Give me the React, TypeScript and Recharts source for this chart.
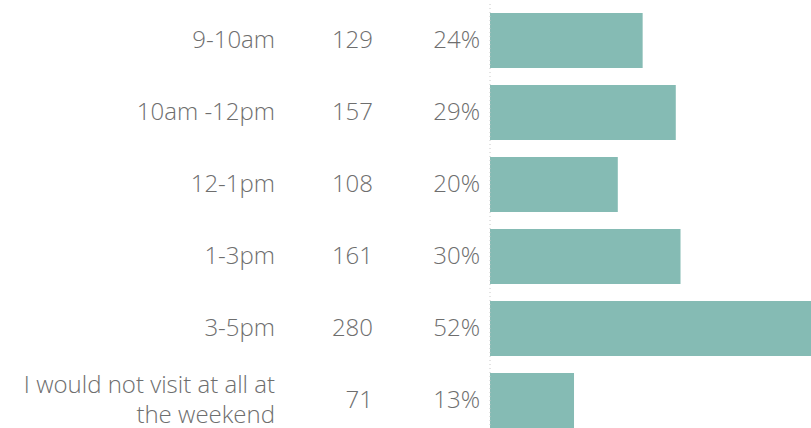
import React from 'react';
import { BarChart, Bar, XAxis, YAxis } from 'recharts';

const categories = ['9-10am', '10am -12pm', '12-1pm', '1-3pm', '3-5pm', 'I would not visit at all at the weekend'];
const counts = [129, 157, 108, 161, 280, 71];
const percents = [24, 29, 20, 30, 52, 13];

const data = categories.map((slot, i) => ({ slot, count: counts[i], pct: percents[i] }));

const TEXT_COLOR = '#6e6e6e';
const FONT = '"Open Sans", sans-serif';

// break long labels into lines of at most maxChars characters
const wrap = (label: string, maxChars: number) => {
  const words = label.split(' ');
  const lines: string[] = [];
  let cur = '';
  words.forEach((w) => {
    const next = cur ? `${cur} ${w}` : w;
    if (next.length > maxChars && cur) {
      lines.push(cur);
      cur = w;
    } else {
      cur = next;
    }
  });
  if (cur) lines.push(cur);
  return lines;
};

const RowTick = (props: any) => {
  const { x, y, index, payload } = props;
  const lines = wrap(payload.value, 27);
  const lh = 30;
  return (
    <g fontFamily={FONT} fontSize={24} fontWeight={300} fill={TEXT_COLOR}>
      {lines.map((line, li) => (
        <text
          key={li}
          x={x - 215}
          y={y + (li - (lines.length - 1) / 2) * lh}
          dy="0.35em"
          textAnchor="end"
        >
          {line}
        </text>
      ))}
      <text x={x - 117} y={y} dy="0.35em" textAnchor="end">
        {counts[index]}
      </text>
      <text x={x - 10} y={y} dy="0.35em" textAnchor="end">
        {percents[index]}%
      </text>
    </g>
  );
};

const App: React.FC = () => {
  return (
    <div style={{ position: 'absolute', left: 0, top: 0, width: 811, height: 428, overflow: 'hidden', background: '#fff' }}>
      <BarChart
        layout="vertical"
        width={845}
        height={436}
        data={data}
        margin={{ top: 4, right: 0, left: 0, bottom: 0 }}
      >
        <XAxis type="number" domain={[0, 300]} hide />
        <YAxis
          dataKey="slot"
          type="category"
          width={490}
          tickLine={false}
          tickSize={0}
          tickMargin={0}
          axisLine={{ stroke: '#c8c8c8', strokeDasharray: '1 3' }}
          tick={<RowTick />}
          interval={0}
        />
        <Bar dataKey="count" fill="#85bbb4" barSize={55} isAnimationActive={false} />
      </BarChart>
    </div>
  );
};

export default App;
